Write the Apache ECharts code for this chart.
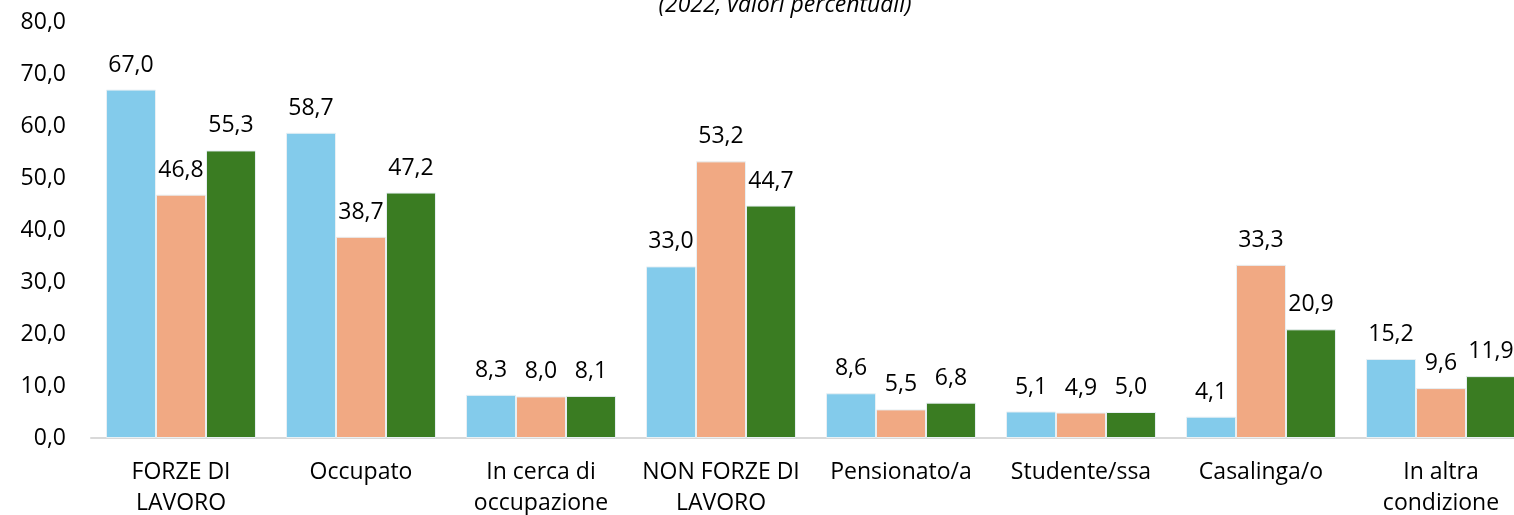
<!DOCTYPE html>
<html>
<head>
<meta charset="utf-8">
<script src="https://cdn.jsdelivr.net/npm/echarts@6/dist/echarts.min.js"></script>
<style>
  html, body { margin: 0; padding: 0; background: #fff; overflow: hidden; }
  #chart { width: 1514px; height: 515px; }
</style>
</head>
<body>
<div id="chart"></div>
<script>
const categories = ['FORZE DI\nLAVORO', 'Occupato', 'In cerca di\noccupazione', 'NON FORZE DI\nLAVORO',
  'Pensionato/a', 'Studente/ssa', 'Casalinga/o', 'In altra\ncondizione']
const maschi = [67.0, 58.7, 8.3, 33.0, 8.6, 5.1, 4.1, 15.2]
const femmine = [46.8, 38.7, 8.0, 53.2, 5.5, 4.9, 33.3, 9.6]
const totale = [55.3, 47.2, 8.1, 44.7, 6.8, 5.0, 20.9, 11.9]
const colors = ['#83cbeb', '#f1a983', '#3a7c22']

const fontFamily = '"Open Sans", "Noto Sans", sans-serif'
const fontSize = 23
const fmt = v => v.toFixed(1).replace('.', ',')

function barSeries(name, data, color) {
  return {
    name: name,
    type: 'bar',
    data: data,
    barGap: '0%',
    barCategoryGap: '16.7%',
    itemStyle: { color: color, borderColor: '#e8f0f4', borderWidth: 1 },
    label: {
      show: true,
      position: 'top',
      distance: 13,
      color: '#000',
      fontSize: fontSize,
      fontFamily: fontFamily,
      formatter: p => fmt(p.value)
    }
  }
}

const chart = echarts.init(document.getElementById('chart'))
chart.setOption({
  animation: false,
  title: {
    text: '(2022, valori percentuali)',
    left: 780,
    top: -11,
    textAlign: 'center',
    textStyle: { fontSize: fontSize, fontStyle: 'italic', fontWeight: 'normal', color: '#000', fontFamily: fontFamily }
  },
  // plot runs slightly past the right edge, as in the source image
  grid: { left: 91, right: -17, top: 22, bottom: 77, outerBoundsMode: 'none', containLabel: false },
  xAxis: {
    type: 'category',
    data: categories,
    axisTick: { show: false },
    axisLine: { lineStyle: { color: '#d9d9d9', width: 2 } },
    axisLabel: { color: '#000', fontSize: fontSize, lineHeight: 31, margin: 19, fontFamily: fontFamily, interval: 0 }
  },
  yAxis: {
    type: 'value',
    min: 0,
    max: 80,
    interval: 10,
    splitLine: { show: false },
    axisLabel: { color: '#000', fontSize: fontSize, margin: 25, fontFamily: fontFamily, formatter: v => fmt(v) }
  },
  series: [
    barSeries('Maschi', maschi, colors[0]),
    barSeries('Femmine', femmine, colors[1]),
    barSeries('Totale', totale, colors[2])
  ]
})
</script>
</body>
</html>
